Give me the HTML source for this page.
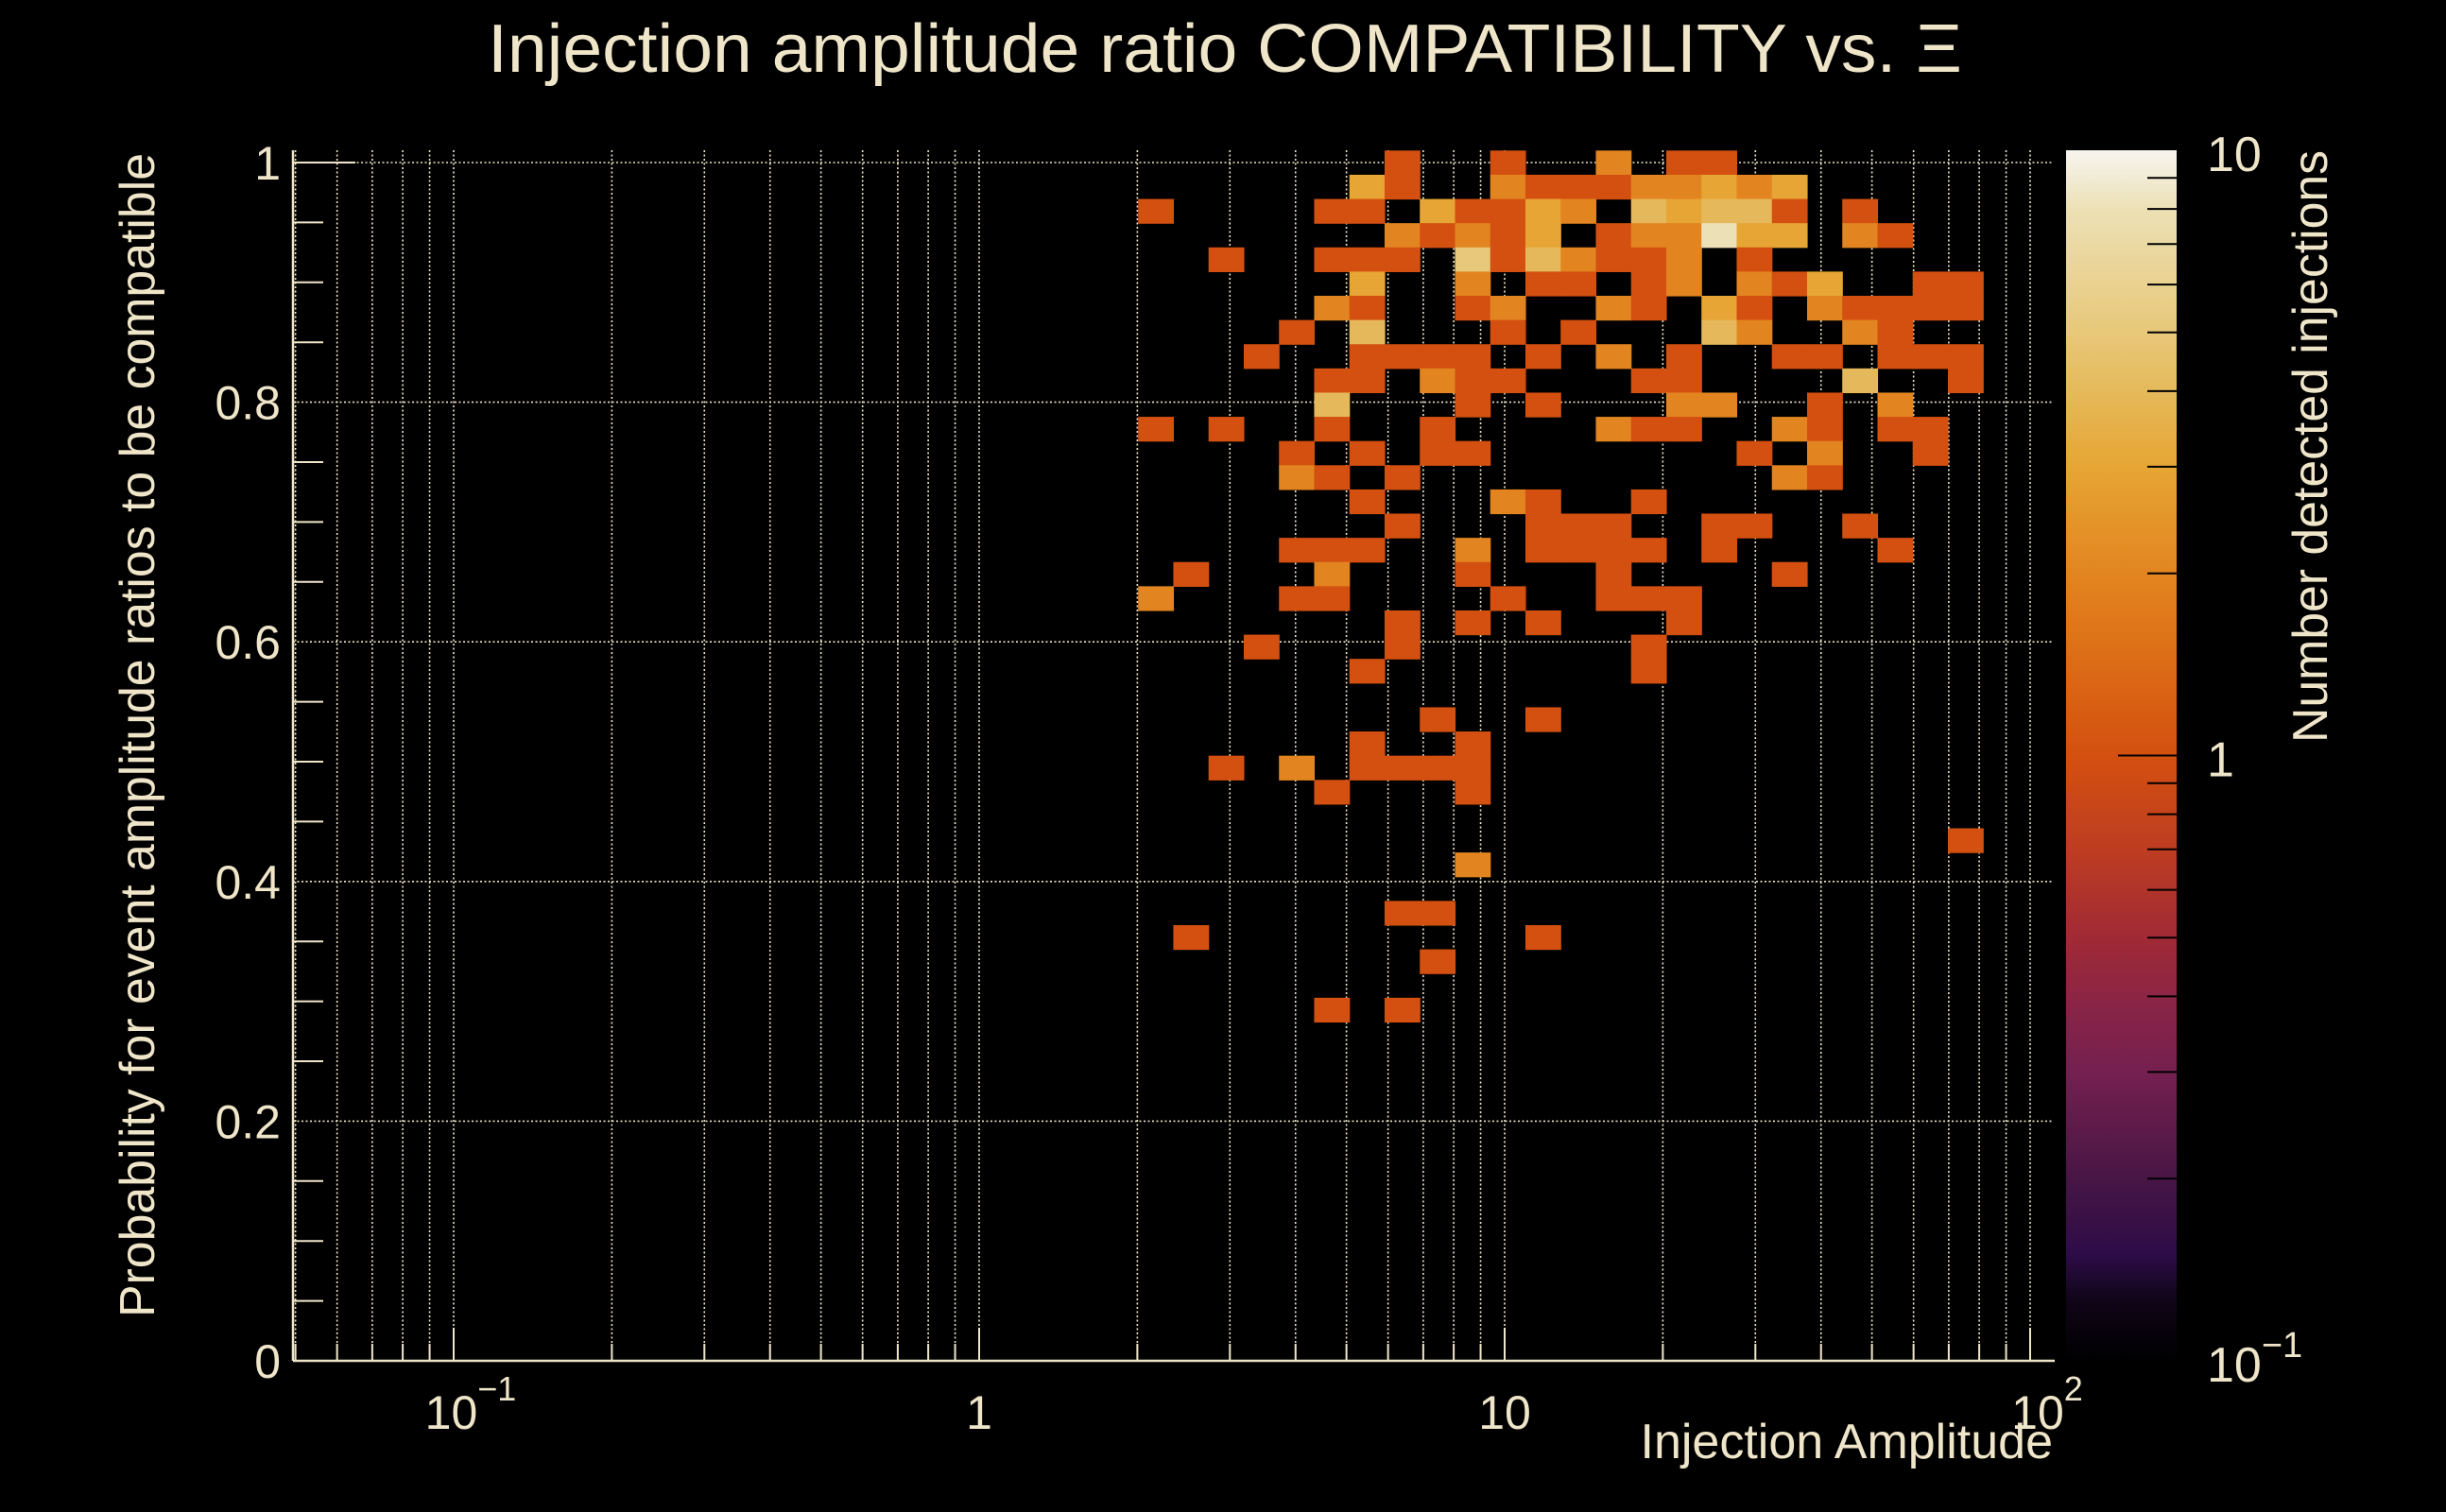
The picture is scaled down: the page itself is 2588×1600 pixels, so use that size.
<!DOCTYPE html>
<html><head><meta charset="utf-8"><style>
html,body{margin:0;padding:0;background:#000;}
svg{display:block;}
text{font-family:"Liberation Sans",Arial,sans-serif;fill:#efe5c9;}
</style></head><body>
<svg id="chart" width="2588" height="1600" viewBox="0 0 2588 1600" xmlns="http://www.w3.org/2000/svg">
<rect x="0" y="0" width="2588" height="1600" fill="#000"/>
<defs>
<linearGradient id="cbgrad" x1="0" y1="1" x2="0" y2="0">
<stop offset="0" stop-color="#000000"/><stop offset="0.05" stop-color="#100518"/>
<stop offset="0.088" stop-color="#2d0c48"/><stop offset="0.151" stop-color="#481645"/>
<stop offset="0.239" stop-color="#752050"/><stop offset="0.301" stop-color="#8c2545"/>
<stop offset="0.349" stop-color="#a02a35"/><stop offset="0.42" stop-color="#bd3c22"/>
<stop offset="0.5" stop-color="#d45010"/><stop offset="0.6" stop-color="#de7418"/>
<stop offset="0.65" stop-color="#e28520"/><stop offset="0.74" stop-color="#e6a634"/>
<stop offset="0.8" stop-color="#e5b95a"/><stop offset="0.85" stop-color="#e8c87a"/>
<stop offset="0.95" stop-color="#ece0b4"/><stop offset="1" stop-color="#f7f5f0"/>
</linearGradient>
</defs>
<g id="grid"></g>
<g id="cells"></g>
<g id="axes"></g>
<g id="cbar"></g>
<text x="1296" y="76" text-anchor="middle" font-size="72" textLength="1560" lengthAdjust="spacingAndGlyphs">Injection amplitude ratio COMPATIBILITY vs.  Ξ</text>
<text x="2172" y="1543" text-anchor="end" font-size="52">Injection Amplitude</text>
<text transform="translate(163,778) rotate(-90)" text-anchor="middle" font-size="52" textLength="1232" lengthAdjust="spacingAndGlyphs">Probability for event amplitude ratios to be compatible</text>
<text transform="translate(2462,159) rotate(-90)" text-anchor="end" font-size="52" textLength="627" lengthAdjust="spacingAndGlyphs">Number detected injections</text>
</svg>
<script>
// ---- data ----
var xBinLog0 = 0.3025;       // log10 of the first x-bin lower edge (~2)
var xBinLogWidth = 0.067;    // log10 width of each x bin
var yBinWidth = 0.0202;      // probability bin width (50 bins over 0..1.01)
var rowIndex = [49,48,47,46,45,44,43,42,41,40,39,38,37,36,35,34,33,32,31,30,29,28,26,25,24,23,21,20,18,17,16,14];
var rowCells = [
 "7:1 10:1 13:2 15:1 16:1",
 "6:3 7:1 10:2 11:1 12:1 13:1 14:2 15:2 16:3 17:2 18:3",
 "0:1 5:1 6:1 8:3 9:1 10:1 11:3 12:2 14:4 15:3 16:4 17:4 18:1 20:1",
 "7:2 8:1 9:2 10:1 11:3 13:1 14:2 15:2 16:8 17:3 18:3 20:2 21:1",
 "2:1 5:1 6:1 7:1 9:5 10:1 11:4 12:2 13:1 14:1 15:2 17:1",
 "6:3 9:2 11:1 12:1 14:1 15:2 17:2 18:1 19:3 22:1 23:1",
 "5:2 6:1 9:1 10:2 13:2 14:1 16:3 17:1 19:2 20:1 21:1 22:1 23:1",
 "4:1 6:4 10:1 12:1 16:4 17:2 20:2 21:1",
 "3:1 6:1 7:1 8:1 9:1 11:1 13:2 15:1 18:1 19:1 21:1 22:1 23:1",
 "5:1 6:1 8:2 9:1 10:1 14:1 15:1 20:4 23:1",
 "5:4 9:1 11:1 15:2 16:2 19:1 21:2",
 "0:1 2:1 5:1 8:1 13:2 14:1 15:1 18:2 19:1 21:1 22:1",
 "4:1 6:1 8:1 9:1 17:1 19:2 22:1",
 "4:2 5:1 7:1 18:2 19:1",
 "6:1 10:2 11:1 14:1",
 "7:1 11:1 12:1 13:1 16:1 17:1 20:1",
 "4:1 5:1 6:1 9:2 11:1 12:1 13:1 14:1 16:1 21:1",
 "1:1 5:2 9:1 13:1 18:1",
 "0:2 4:1 5:1 10:1 13:1 14:1 15:1",
 "7:1 9:1 11:1 15:1",
 "3:1 7:1 14:1",
 "6:1 14:1",
 "8:1 11:1",
 "6:1 9:1",
 "2:1 4:2 6:1 7:1 8:1 9:1",
 "5:1 9:1",
 "23:1",
 "9:2",
 "7:1 8:1",
 "1:1 11:1",
 "8:1",
 "5:1 7:1"
];
var yTickValues = [0,0.2,0.4,0.6,0.8,1];
var yTickLabels = ["0","0.2","0.4","0.6","0.8","1"];
var xMajorValues = [0.1,1,10,100];
var xMajorBase = ["10","1","10","10"];
var xMajorSup = ["\u22121","","","2"];
var cbTickValues = [0.1,1,10];
var cbTickBase = ["10","1","10"];
var cbTickSup = ["\u22121","",""];

// ---- axes ----
var NS = "http://www.w3.org/2000/svg";
var L = 310, R = 2172, T = 159, B = 1440;
function X(v){ return 1036 + 556*Math.log10(v); }
function Y(p){ return 1440 - 1268*p; }
var cbX0 = 2186, cbX1 = 2303, cbTop = 159, cbBot = 1440;
function CY(v){ return cbBot - (Math.log10(v)+1)/2*(cbBot-cbTop); }
var stops = [[0,[0,0,0]],[0.05,[16,5,24]],[0.088,[45,12,72]],[0.151,[72,22,69]],[0.239,[117,32,80]],[0.301,[140,37,69]],[0.349,[160,42,53]],[0.42,[189,60,34]],[0.5,[212,80,16]],[0.6,[222,116,24]],[0.65,[226,133,32]],[0.74,[230,166,52]],[0.8,[229,185,90]],[0.85,[232,200,122]],[0.95,[236,224,180]],[1,[247,245,240]]];
function colorFor(v){
  var t = (Math.log10(v)+1)/2; t = Math.max(0,Math.min(1,t));
  for (var i=1;i<stops.length;i++){
    if (t<=stops[i][0]){
      var a=stops[i-1], b=stops[i], f=(t-a[0])/(b[0]-a[0]);
      var c=[0,1,2].map(function(k){return Math.round(a[1][k]+(b[1][k]-a[1][k])*f);});
      return "rgb("+c.join(",")+")";
    }
  }
  return "rgb(247,245,240)";
}
function mk(tag, attrs, parent){
  var e=document.createElementNS(NS,tag);
  for (var k in attrs) e.setAttribute(k, attrs[k]);
  parent.appendChild(e); return e;
}
var grid=document.getElementById("grid"), cells=document.getElementById("cells"), axes=document.getElementById("axes"), cbar=document.getElementById("cbar");
var gridStyle={stroke:"#efe5c9","stroke-width":1.6,"stroke-dasharray":"2 2.5"};

// x log ticks
var xTicks=[];
for (var d=-2; d<=2; d++){ for (var m=1;m<=9;m++){ var v=m*Math.pow(10,d); if (X(v)>=L && X(v)<=R) xTicks.push([v,m===1]); } }
xTicks.forEach(function(tk){
  var x=X(tk[0]);
  var g=mk("line",{x1:x,x2:x,y1:T,y2:B,stroke:gridStyle.stroke,"stroke-width":gridStyle["stroke-width"],"stroke-dasharray":gridStyle["stroke-dasharray"]},grid);
  
  
  var t=mk("line",{x1:x,x2:x,y1:B,y2:B-(tk[1]?35:18),stroke:"#efe5c9","stroke-width":2},axes);
  
  
});
// y grid and ticks
yTickValues.forEach(function(p,i){
  var y=Y(p);
  if (p>0){
    var g=mk("line",{x1:L,x2:R,y1:y,y2:y,stroke:gridStyle.stroke,"stroke-width":gridStyle["stroke-width"],"stroke-dasharray":gridStyle["stroke-dasharray"]},grid);
    
    
  }
  var lb=mk("text",{x:297,y:y+18,"text-anchor":"end","font-size":50},axes);
  lb.textContent=yTickLabels[i];
  
  
});
for (var k=1;k<=20;k++){
  var p=k*0.05; var y=Y(p);
  var major=(k%4===0);
  if (major && k!==20) continue;
  var t=mk("line",{x1:L,x2:L+(major?66:32),y1:y,y2:y,stroke:"#efe5c9","stroke-width":2},axes);
  
  
}
// cells
rowCells.forEach(function(str,ri){
  var r=rowIndex[ri];
  str.split(" ").forEach(function(pair){
    var parts=pair.split(":"), c=+parts[0], n=+parts[1];
    var xlo=Math.pow(10,xBinLog0+xBinLogWidth*c), xhi=Math.pow(10,xBinLog0+xBinLogWidth*(c+1));
    var ylo=r*yBinWidth, yhi=(r+1)*yBinWidth;
    var x0=X(xlo), x1=X(xhi), y0=Y(yhi), y1=Y(ylo);
    var rc=mk("rect",{x:x0.toFixed(2),y:y0.toFixed(2),width:(x1-x0+0.6).toFixed(2),height:(y1-y0+0.6).toFixed(2),fill:colorFor(n)},cells);
    
    
  });
});
// axis lines
var ax=mk("line",{x1:L,x2:L,y1:T,y2:B,stroke:"#efe5c9","stroke-width":2.5},axes);


var bx=mk("line",{x1:L,x2:R+2,y1:B,y2:B,stroke:"#efe5c9","stroke-width":2.5},axes);


// x major labels
xMajorValues.forEach(function(v,i){
  var x=X(v);
  var tx=mk("text",{x:x,y:1512,"text-anchor":"middle","font-size":50},axes);
  
  
  var s1=document.createElementNS(NS,"tspan"); s1.textContent=xMajorBase[i]; tx.appendChild(s1);
  if (xMajorSup[i]){
    var s2=document.createElementNS(NS,"tspan"); s2.setAttribute("dy","-30"); s2.setAttribute("font-size","36"); s2.textContent=xMajorSup[i]; tx.appendChild(s2);
    tx.setAttribute("x", x+18);
  }
});
// colorbar
var cb=mk("rect",{x:cbX0,y:cbTop,width:cbX1-cbX0,height:cbBot-cbTop,fill:"url(#cbgrad)"},cbar);


for (var d2=-1; d2<=1; d2++){ for (var m2=1;m2<=9;m2++){
  var v2=m2*Math.pow(10,d2); if (v2<=0.1 || v2>=10) continue;
  var yy=CY(v2);
  var ct=mk("line",{x1:cbX1-(m2===1?62:31),x2:cbX1,y1:yy,y2:yy,stroke:"#000","stroke-width":2},cbar);
  
  
}}
cbTickValues.forEach(function(v,i){
  var yy=CY(v);
  var tx=mk("text",{x:2335,y:yy+22,"font-size":52},cbar);
  
  
  var s1=document.createElementNS(NS,"tspan"); s1.textContent=cbTickBase[i]; tx.appendChild(s1);
  if (cbTickSup[i]){ var s2=document.createElementNS(NS,"tspan"); s2.setAttribute("dy","-26"); s2.setAttribute("font-size","38"); s2.textContent=cbTickSup[i]; tx.appendChild(s2); }
});
</script>
</body></html>
